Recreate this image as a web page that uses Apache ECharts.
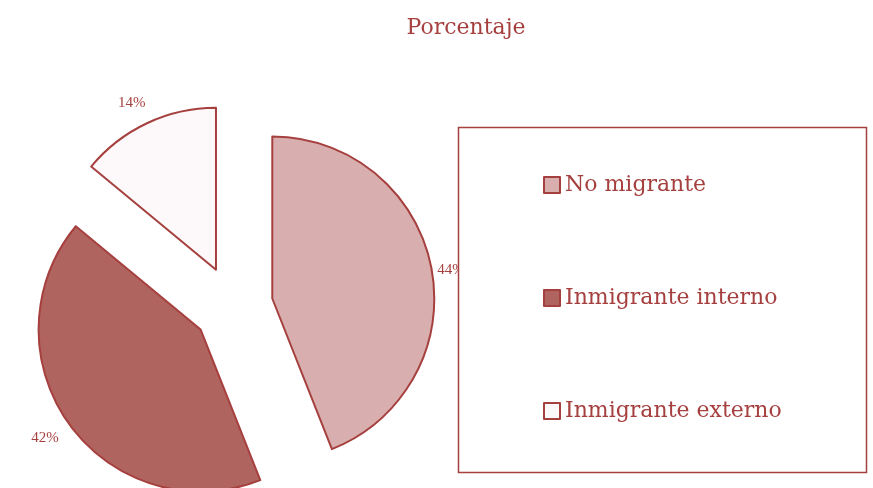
<!DOCTYPE html>
<html>
<head>
<meta charset="utf-8">
<script src="https://cdn.jsdelivr.net/npm/echarts@6/dist/echarts.min.js"></script>
<style>
    html, body { margin: 0; padding: 0; background: #fff; }
    #chart { width: 873px; height: 488px; }
</style>
</head>
<body>
<div id="chart"></div>
<script>
    const categories = ['No migrante', 'Inmigrante interno', 'Inmigrante externo'];
    const values = [44, 42, 14];
    const colors = ['#D8AFAE', '#B0645F', '#FDF8F9'];
    const red = '#A5403F';
    // small nudges so the % labels sit where the original put them
    const labelShift = [[-5, 3], [-1, 10], [6, -15]];

    const chart = echarts.init(document.getElementById('chart'));
    const option = {
        animation: false,
        title: {
            text: 'Porcentaje',
            left: 461, top: 12, textAlign: 'center',
            textStyle: {fontFamily: 'DejaVu Serif', fontWeight: 'normal', fontSize: 22, color: red}
        },
        legend: {
            orient: 'vertical',
            left: 538, top: 169,
            itemWidth: 16, itemHeight: 16, itemGap: 91,
            icon: 'rect',
            selectedMode: false,
            z: 5,
            data: categories,
            textStyle: {fontFamily: 'DejaVu Serif', fontSize: 22, color: red}
        },
        graphic: [{
            type: 'rect',
            z: 4,
            shape: {x: 458.5, y: 127.5, width: 408, height: 345},
            style: {fill: '#fff', stroke: red, lineWidth: 1.5}
        }],
        series: [{
            type: 'pie',
            center: [233, 306],
            radius: 162,
            startAngle: 90,
            clockwise: true,
            selectedMode: 'multiple',
            selectedOffset: 40,
            emphasis: {disabled: true},
            itemStyle: {borderColor: red, borderWidth: 2},
            select: {itemStyle: {borderColor: red, borderWidth: 2}},
            label: {
                show: true,
                position: 'outside',
                formatter: '{c}%',
                fontFamily: 'Liberation Serif',
                fontSize: 15,
                color: red
            },
            labelLine: {show: false, length: 6, length2: 0},
            labelLayout: function (p) {
                const s = labelShift[p.dataIndex];
                return {dx: s[0], dy: s[1]};
            },
            data: categories.map((name, i) => ({
                name: name,
                value: values[i],
                selected: true,
                itemStyle: {color: colors[i]}
            }))
        }]
    };
    chart.setOption(option);
</script>
</body>
</html>
